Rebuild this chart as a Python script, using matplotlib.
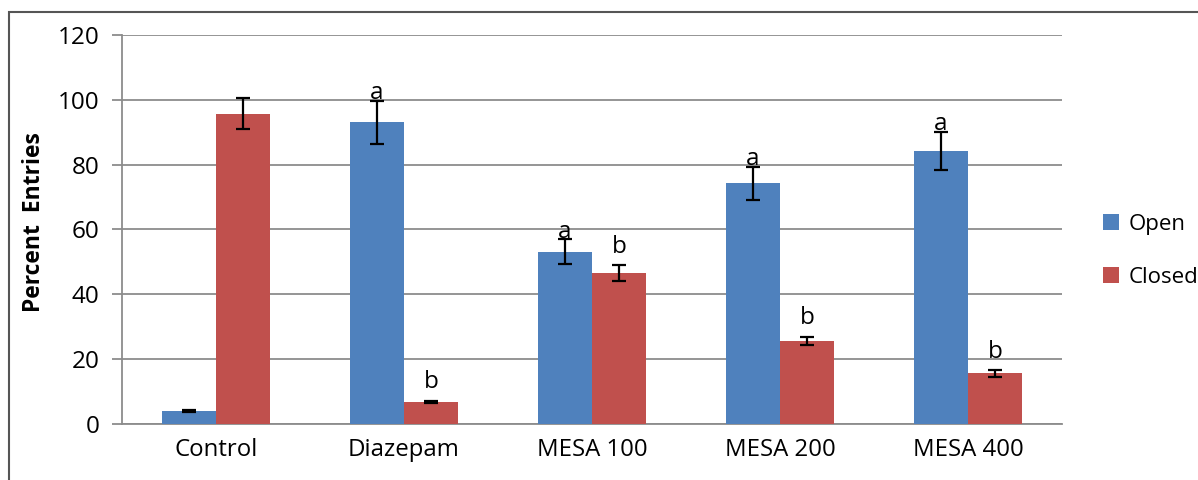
import matplotlib.pyplot as plt
from matplotlib.patches import Rectangle
import numpy as np

groups = ["Control", "Diazepam", "MESA 100", "MESA 200", "MESA 400"]
open_vals = [4.1, 93.1, 53.2, 74.2, 84.3]
open_err = [0.3, 6.6, 3.8, 5.2, 5.9]
closed_vals = [95.7, 6.8, 46.5, 25.6, 15.6]
closed_err = [4.8, 0.3, 2.5, 1.3, 1.0]
open_marks = ["", "a", "a", "a", "a"]
closed_marks = ["", "b", "b", "b", "b"]

BLUE = "#4F81BD"
RED = "#C0504D"
GRID = "#8c8c8c"

plt.rcParams['font.family'] = ['Open Sans', 'DejaVu Sans']

fig = plt.figure(figsize=(11.98, 4.8), dpi=100)
ax = fig.add_axes([0.1018, 0.1167, 0.7847, 0.8104])

x = np.arange(len(groups))
w = 0.287
ax.bar(x - w / 2, open_vals, w, color=BLUE, label="Open", zorder=3)
ax.bar(x + w / 2, closed_vals, w, color=RED, label="Closed", zorder=3)
ekw = dict(fmt="none", ecolor="black", elinewidth=1.6, capsize=5, capthick=1.6, zorder=4)
ax.errorbar(x - w / 2, open_vals, yerr=open_err, **ekw)
ax.errorbar(x + w / 2, closed_vals, yerr=closed_err, **ekw)

for i in range(len(groups)):
    if open_marks[i]:
        ax.annotate(open_marks[i], (x[i] - w / 2, open_vals[i] + open_err[i]),
                    xytext=(0, 1), textcoords="offset points",
                    ha="center", va="baseline", fontsize=17.5, zorder=5)
    if closed_marks[i]:
        ax.annotate(closed_marks[i], (x[i] + w / 2, closed_vals[i] + closed_err[i]),
                    xytext=(0, 9), textcoords="offset points",
                    ha="center", va="baseline", fontsize=17.5, zorder=5)

ax.set_xlim(-0.5, 4.5)
ax.set_ylim(0, 120)
ax.set_yticks(range(0, 121, 20))
ax.set_xticks(x)
ax.set_xticklabels(groups, fontsize=17.3)
ax.tick_params(axis="y", labelsize=17.5, length=7, color=GRID, width=1.3, pad=9)
ax.tick_params(axis="x", length=0, pad=10)
ax.yaxis.grid(True, color=GRID, linewidth=1.3, zorder=0)
ax.set_axisbelow(True)
for s in ["top", "right"]:
    ax.spines[s].set_visible(False)
ax.spines["left"].set_color(GRID)
ax.spines["bottom"].set_color(GRID)
ax.spines["left"].set_linewidth(1.3)
ax.spines["bottom"].set_linewidth(1.3)

ax.set_ylabel("Percent  Entries", fontsize=16.5, fontweight="bold")
ax.yaxis.set_label_coords(-0.081, 0.52)

ax.legend(loc="center left", bbox_to_anchor=(1.022, 0.445), frameon=False,
          fontsize=16, handlelength=0.75, handleheight=0.75, handletextpad=0.4,
          labelspacing=1.45)

fig.patches.append(Rectangle((9 / 1198, -0.1), 1.2, 1.1 - 12 / 480,
                             transform=fig.transFigure, fill=False,
                             edgecolor="#555555", linewidth=1.5))

fig.savefig("out.png", dpi=100)
